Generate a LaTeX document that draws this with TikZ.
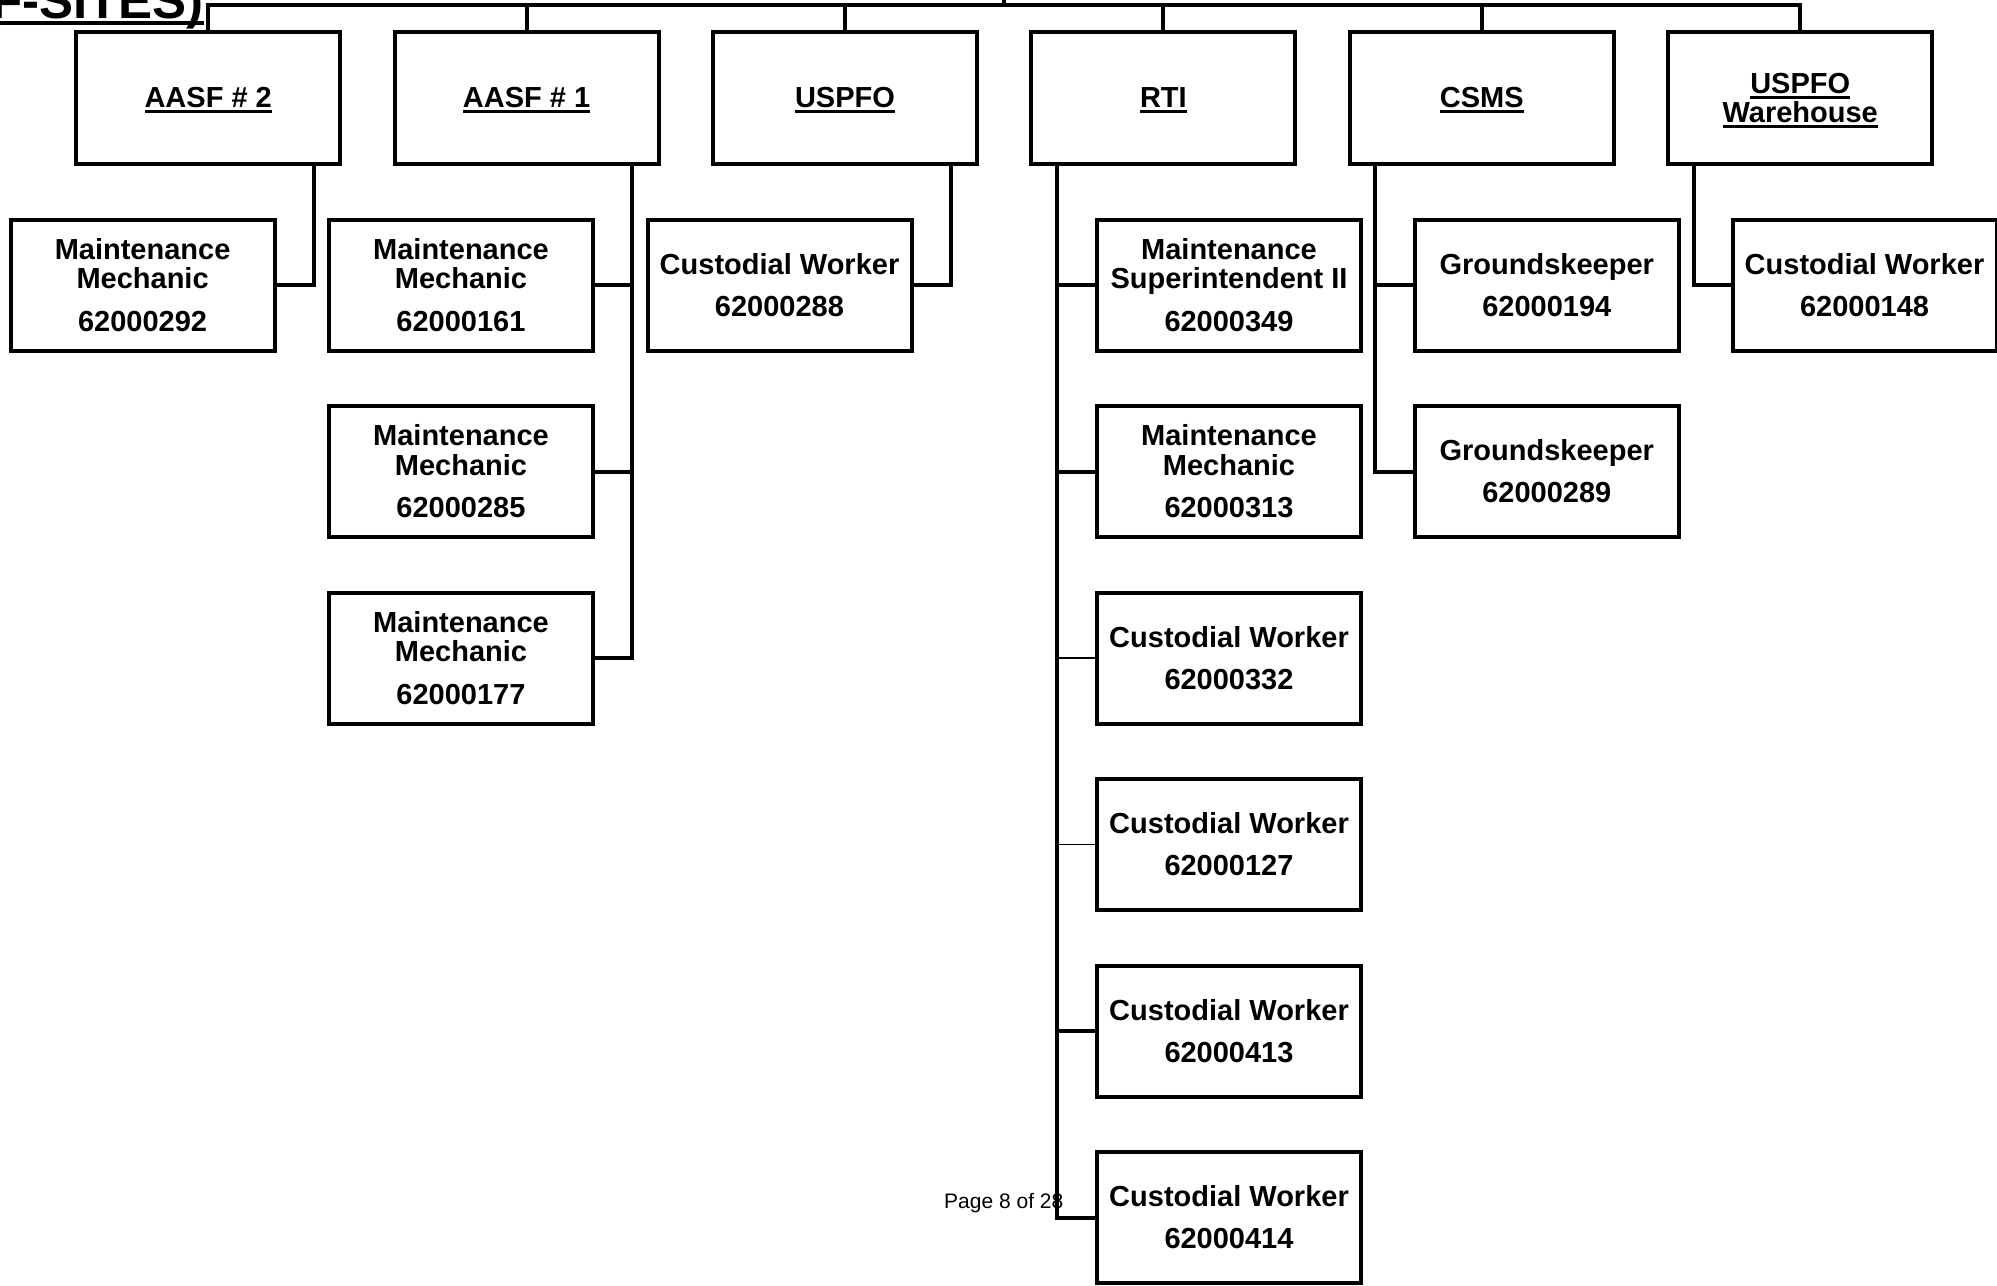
\documentclass[tikz,border=0pt]{standalone}
\usepackage{fontspec}
\setmainfont{Liberation Sans}
\newsavebox\myulbox
\newcommand\myul[3]{\sbox\myulbox{#3}\raisebox{0pt}[0pt][0pt]{\rlap{\rule[#1]{\wd\myulbox}{#2}}}\usebox\myulbox}
\tikzset{
  box/.style={draw, line width=4pt, minimum width=264pt, minimum height=131pt, inner sep=0pt, align=center, font=\fontsize{29}{29.5}\selectfont\bfseries},
  topbox/.style={box, minimum height=132pt},
  conn/.style={line width=4pt},
  thinconn/.style={line width=1.6pt},
}
\begin{document}
\begin{tikzpicture}[x=1pt,y=-1pt]
\useasboundingbox (0,0) rectangle (1997,1285);
\clip (0,0) rectangle (1997,1285);
% title (cut off at the top edge)
\node[anchor=base east, inner sep=0pt, font=\fontsize{51}{55}\selectfont\bfseries] (title) at (204,18) {\myul{-7pt}{4.5pt}{F-SITES)}};
% page label
\node[anchor=base west, inner sep=0pt, font=\fontsize{21}{25}\selectfont] (pg) at (944,1208) {Page 8 of 28};
% top boxes
\node[topbox] (t1) at (208.2,98) {\myul{-5.5pt}{3pt}{AASF \# 2}};
\node[topbox] (t2) at (526.6,98) {\myul{-5.5pt}{3pt}{AASF \# 1}};
\node[topbox] (t3) at (845.0,98) {\myul{-5.5pt}{3pt}{USPFO}};
\node[topbox] (t4) at (1163.4,98) {\myul{-5.5pt}{3pt}{RTI}};
\node[topbox] (t5) at (1481.8,98) {\myul{-5.5pt}{3pt}{CSMS}};
\node[topbox] (t6) at (1800.2,98) {\myul{-5.5pt}{3pt}{USPFO}\\\myul{-5.5pt}{3pt}{Warehouse}};
% bus
\coordinate (bus) at (1004.2,5);
\coordinate (up) at (1004.2,-6);
\draw[conn] (t1.north) |- (bus) -| (t6.north);
\foreach \n in {t2,t3,t4,t5} \draw[conn] (\n.north) -- (\n.north |- bus);
\draw[conn] (bus) -- (up);
% column 1
\node[box] (c1a) at (142.6,285) {Maintenance\\Mechanic\\[13pt]62000292};
% column 2
\node[box] (c2a) at (461.0,285) {Maintenance\\Mechanic\\[13pt]62000161};
\node[box] (c2b) at (461.0,471.5) {Maintenance\\Mechanic\\[13pt]62000285};
\node[box] (c2c) at (461.0,658) {Maintenance\\Mechanic\\[13pt]62000177};
% column 3
\node[box] (c3a) at (779.5,285) {Custodial Worker\\[12.5pt]62000288};
% column 4
\node[box] (c4a) at (1229.0,285) {Maintenance\\Superintendent II\\[13pt]62000349};
\node[box] (c4b) at (1229.0,471.5) {Maintenance\\Mechanic\\[13pt]62000313};
\node[box] (c4c) at (1229.0,658) {Custodial Worker\\[12.5pt]62000332};
\node[box] (c4d) at (1229.0,844.5) {Custodial Worker\\[12.5pt]62000127};
\node[box] (c4e) at (1229.0,1031) {Custodial Worker\\[12.5pt]62000413};
\node[box] (c4f) at (1229.0,1217.5) {Custodial Worker\\[12.5pt]62000414};
% column 5
\node[box] (c5a) at (1546.8,285) {Groundskeeper\\[12.5pt]62000194};
\node[box] (c5b) at (1546.8,471.5) {Groundskeeper\\[12.5pt]62000289};
% column 6
\node[box] (c6a) at (1864.5,285) {Custodial Worker\\[12.5pt]62000148};
% connectors
\draw[conn] ([xshift=105.5pt]t1.south) |- (c1a.east);
\draw[conn] ([xshift=105.5pt]t2.south) |- (c2c.east);
\coordinate (r2) at ([xshift=105.5pt]t2.south);
\draw[conn] (c2a.east) -- (c2a.east -| r2);
\draw[conn] (c2b.east) -- (c2b.east -| r2);
\draw[conn] ([xshift=105.5pt]t3.south) |- (c3a.east);
\coordinate (r4) at ([xshift=-106.4pt]t4.south);
\draw[conn] (r4) |- (c4f.west);
\draw[conn] (c4a.west) -- (c4a.west -| r4);
\draw[conn] (c4b.west) -- (c4b.west -| r4);
\draw[thinconn] (c4c.west) -- (c4c.west -| r4);
\draw[thinconn] (c4d.west) -- (c4d.west -| r4);
\draw[conn] (c4e.west) -- (c4e.west -| r4);
\coordinate (r5) at ([xshift=-106.4pt]t5.south);
\draw[conn] (r5) |- (c5b.west);
\draw[conn] (c5a.west) -- (c5a.west -| r5);
\draw[conn] ([xshift=-106.4pt]t6.south) |- (c6a.west);
\end{tikzpicture}
\end{document}
